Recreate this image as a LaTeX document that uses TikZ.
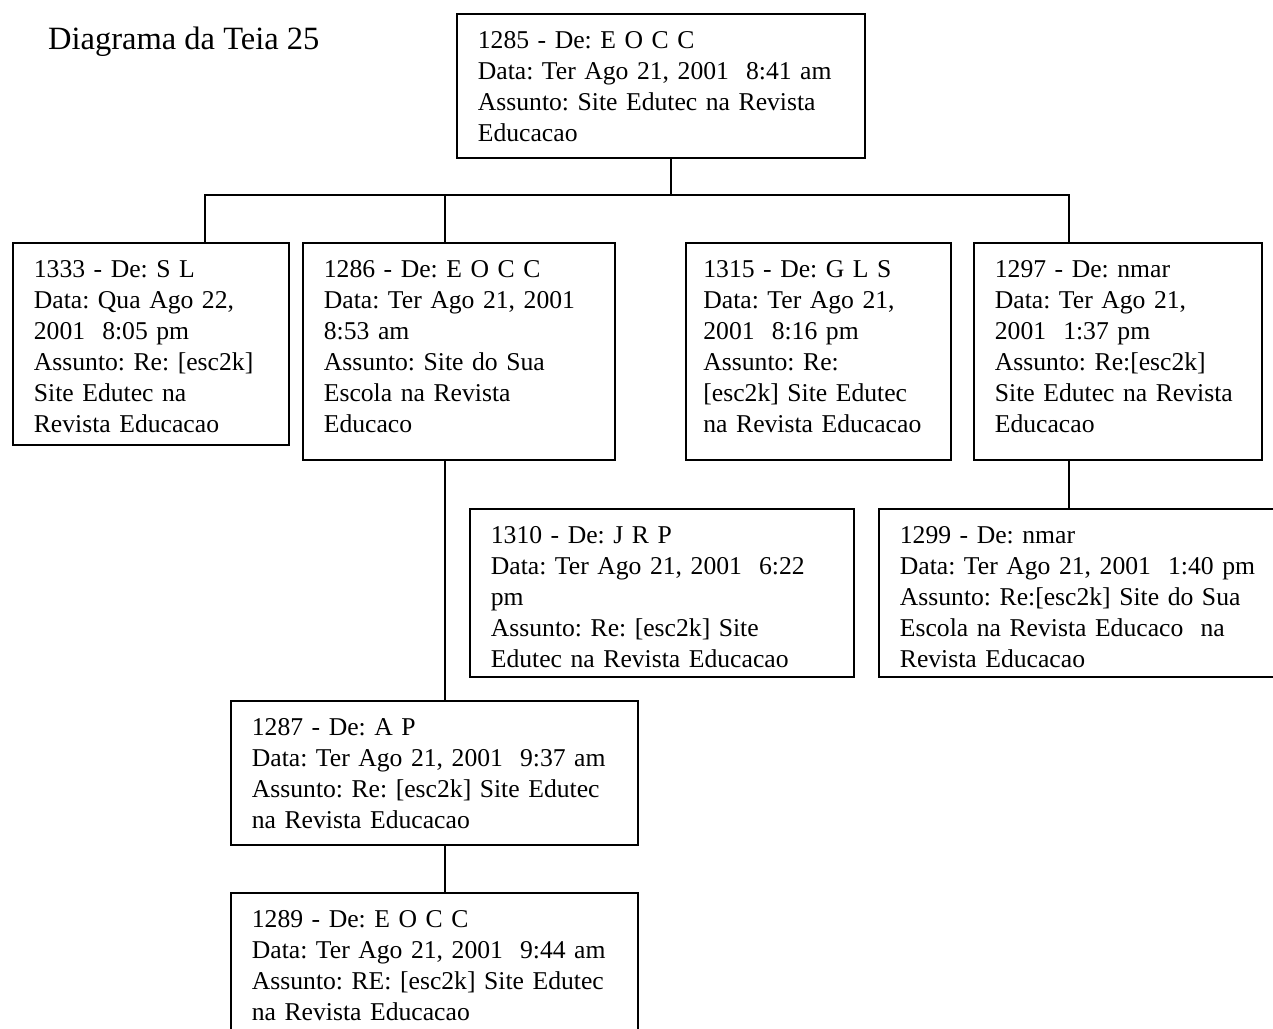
\documentclass[tikz,border=0pt]{standalone}
\usepackage{fontspec}
\setmainfont{Liberation Serif}
\frenchspacing
\hyphenpenalty=10000
\begin{document}
\begin{tikzpicture}[x=0.02cm, y=-0.02cm,
  every node/.style={font=\fontsize{14.6pt}{17.6pt}\selectfont},
  msg/.style={draw, line width=1pt, anchor=north west, align=left,
    inner xsep=0.42cm, inner ysep=0pt, text height=0.7cm},
  link/.style={line width=1pt}]
\useasboundingbox (0,0) rectangle (1273,1028);
% title
\node[anchor=base west, font=\fontsize{18.5pt}{21pt}\selectfont] (title) at (42,49) {Diagrama da Teia 25};
% messages
\node[msg, text width=7.32cm, text depth=2.18cm] (n1285) at (456,13) {1285 - De: E O C C\\Data: Ter Ago 21, 2001~ 8:41 am\\Assunto: Site Edutec na Revista\\Educacao};
\node[msg, text width=4.68cm, text depth=3.34cm] (n1333) at (12,242) {1333 - De: S L\\Data: Qua Ago 22,\\2001~ 8:05 pm\\Assunto: Re: [esc2k]\\Site Edutec na\\Revista Educacao};
\node[msg, text width=5.40cm, text depth=3.64cm] (n1286) at (302,242) {1286 - De: E O C C\\Data: Ter Ago 21, 2001\\8:53 am\\Assunto: Site do Sua\\Escola na Revista\\Educaco};
\node[msg, text width=4.60cm, text depth=3.64cm, inner xsep=0.35cm] (n1315) at (685,242) {1315 - De: G L S\\Data: Ter Ago 21,\\2001~ 8:16 pm\\Assunto: Re:\\{[esc2k]} Site Edutec\\na Revista Educacao};
\node[msg, text width=4.92cm, text depth=3.64cm] (n1297) at (973,242) {1297 - De: nmar\\Data: Ter Ago 21,\\2001~ 1:37 pm\\Assunto: Re:[esc2k]\\Site Edutec na Revista\\Educacao};
\node[msg, text width=6.84cm, text depth=2.66cm] (n1310) at (469,508) {1310 - De: J R P\\Data: Ter Ago 21, 2001~ 6:22\\pm\\Assunto: Re: [esc2k] Site\\Edutec na Revista Educacao};
\node[msg, text width=7.76cm, text depth=2.66cm] (n1299) at (878,508) {1299 - De: nmar\\Data: Ter Ago 21, 2001~ 1:40 pm\\Assunto: Re:[esc2k] Site do Sua\\Escola na Revista Educaco~ na\\Revista Educacao};
\node[msg, text width=7.30cm, text depth=2.18cm] (n1287) at (230,700) {1287 - De: A P\\Data: Ter Ago 21, 2001~ 9:37 am\\Assunto: Re: [esc2k] Site Edutec\\na Revista Educacao};
\node[msg, text width=7.30cm, text depth=2.18cm] (n1289) at (230,892) {1289 - De: E O C C\\Data: Ter Ago 21, 2001~ 9:44 am\\Assunto: RE: [esc2k] Site Edutec\\na Revista Educacao};
% tree lines
\coordinate (bus) at (671,195);
\coordinate (busL) at (205,195);
\coordinate (busR) at (1069,195);
\coordinate (stem) at (445,195);
\draw[link] (bus |- n1285.south) -- (bus);
\draw[link] (busL |- n1333.north) -- (busL) -- (busR) -- (busR |- n1297.north);
\draw[link] (stem) -- (stem |- n1286.north);
\draw[link] (stem |- n1286.south) -- (stem |- n1287.north);
\draw[link] (stem |- n1287.south) -- (stem |- n1289.north);
\draw[link] (busR |- n1297.south) -- (busR |- n1299.north);
\end{tikzpicture}
\end{document}
